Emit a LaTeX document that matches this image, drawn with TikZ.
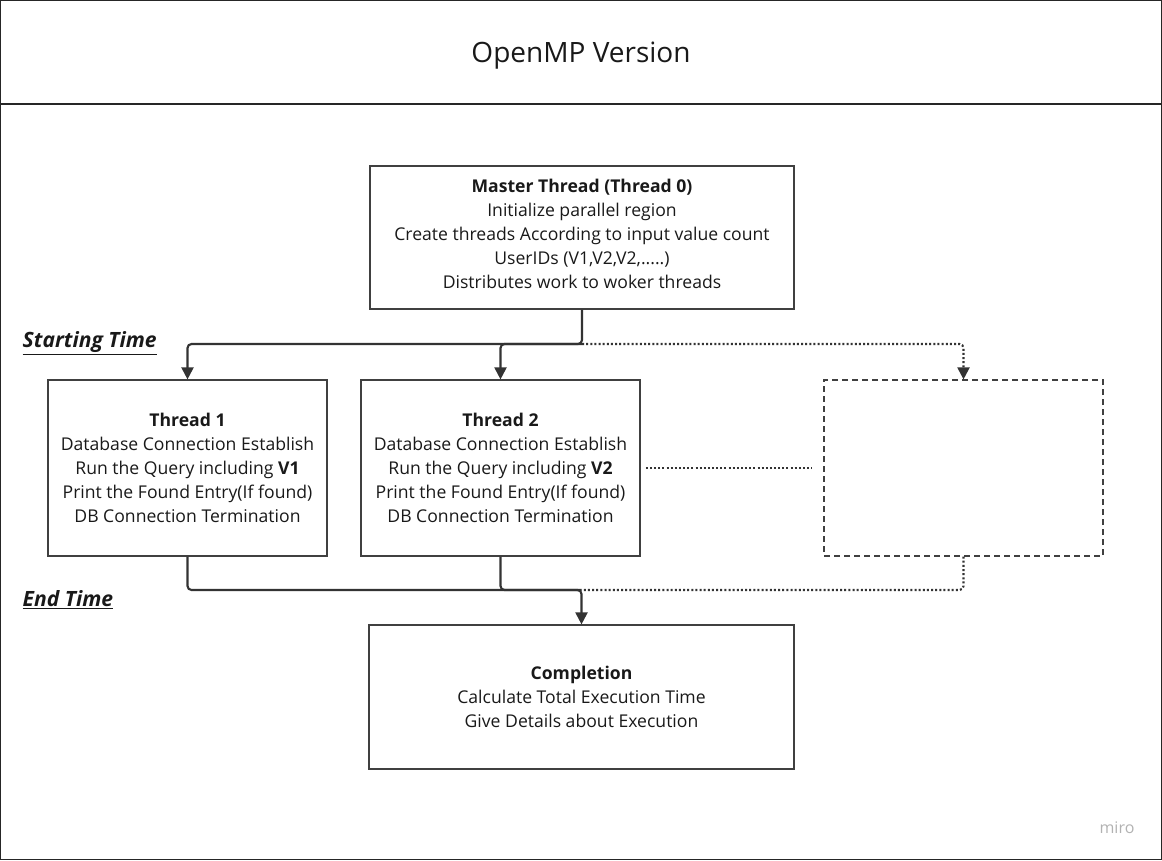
\documentclass[tikz,border=0pt]{standalone}
\usepackage{fontspec}
\setmainfont{Open Sans}
\usetikzlibrary{arrows.meta}

\newcommand{\pxl}{0.75pt}
\tikzset{
  box/.style={draw=black!75, line width=0.9pt, align=center, inner sep=0pt,
    text=black!90, font=\fontsize{13.2}{18}\selectfont},
  conn/.style={draw=black!80, line width=1.6pt, rounded corners=3pt},
  tip/.style={-{Triangle[length=9pt,width=9pt]}},
  dots/.style={dash pattern=on 1.5pt off 1.6pt},
  mark label/.style={anchor=west, text=black!90,
    font=\fontsize{15.8}{19}\selectfont\bfseries\itshape},
}

\begin{document}
\begin{tikzpicture}[x=\pxl, y=-\pxl]
      \useasboundingbox (0,0) rectangle (1162,860);
      \draw[black!85, line width=1pt] (0.5,0.5) rectangle (1161.5,859.5);
      \draw[black!85, line width=1pt] (0.5,104) -- (1161.5,104);
      \node[text=black!90] (title) at (581,56) {\fontsize{21}{25}\selectfont OpenMP Version};

      \node[box, minimum width=424*\pxl, minimum height=143*\pxl] (master) at (582,237.5)
        {\textbf{Master Thread (Thread 0)}\\ Initialize parallel region\\
         Create threads According to input value count\\ UserIDs (V1,V2,V2,.....)\\
         Distributes work to woker threads\\[-12pt]\mbox{}};

      \node[box, minimum width=279*\pxl, minimum height=176*\pxl] (t1) at (187.5,468)
        {\textbf{Thread 1}\\ Database Connection Establish\\ Run the Query including \textbf{V1}\\
         Print the Found Entry(If found)\\ DB Connection Termination};
      \node[box, minimum width=279*\pxl, minimum height=176*\pxl] (t2) at (500.5,468)
        {\textbf{Thread 2}\\ Database Connection Establish\\ Run the Query including \textbf{V2}\\
         Print the Found Entry(If found)\\ DB Connection Termination};
      \node[box, dash pattern=on 4.5pt off 3pt, minimum width=279*\pxl, minimum height=176*\pxl] (tn) at (963.5,468) {};

      \node[box, minimum width=425*\pxl, minimum height=144*\pxl] (done) at (581.5,697)
        {\textbf{Completion}\\ Calculate Total Execution Time\\ Give Details about Execution};

      \node[mark label] (start) at (18,343) {\underline{Starting Time}};
      \node[mark label] (endt) at (18,600) {\underline{End Time}};

      % fork
      \coordinate (split) at (582,344);
      \draw[conn, tip] (master.south) -- (split) -| (t1.north);
      \draw[conn, tip] (split) -| (t2.north);
      \draw[conn, tip, dots] (split) -| (tn.north);
      \draw[conn, dots, shorten <=4pt, shorten >=9pt] (t2.east) -- (tn.west);

      % join
      \coordinate (join) at (581.5,590);
      \draw[conn, tip] (t1.south) |- (join) -- (done.north);
      \draw[conn] (t2.south) |- (join);
      \draw[conn, dots] (tn.south) |- (join);

      \node[text=black!30] (miro) at (1117,828) {\fontsize{12}{14}\selectfont miro};
\end{tikzpicture}
\end{document}
